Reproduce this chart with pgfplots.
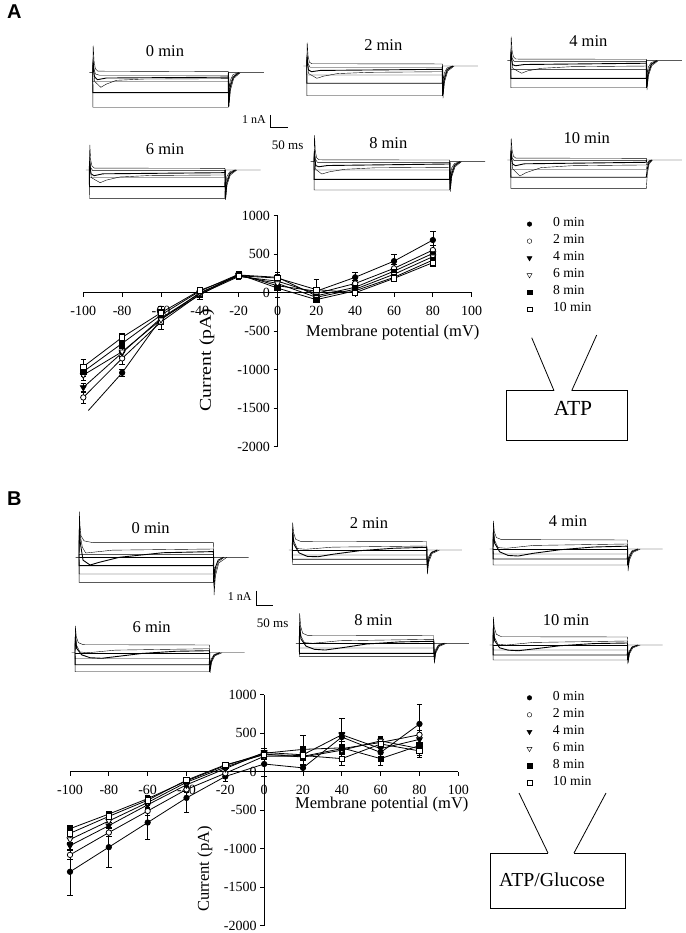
\documentclass[border=0pt]{standalone}
\usepackage{pgfplots}
\pgfplotsset{compat=1.18}
\usepackage{fontspec}
\setmainfont{Liberation Serif}
\setsansfont{Liberation Sans}
\tikzset{
 s0/.style={mark=*, mark options={solid, fill=black}},
 s2/.style={mark=*, mark options={solid, fill=white}},
 s4/.style={mark=triangle*, mark options={solid, rotate=180, fill=black, scale=1.25}},
 s6/.style={mark=triangle*, mark options={solid, rotate=180, fill=white, scale=1.25}},
 s8/.style={mark=square*, mark options={solid, fill=black}},
 s10/.style={mark=square*, mark options={solid, fill=white}},
}
\pgfplotsset{
 trbase/.style={hide axis, clip=false, enlargelimits=false, anchor=south west, xmin=-10, xmax=505,
   cycle list={{black,no markers,line width=0.9pt}}},
 trA/.style={trbase, x=0.339pt, y=12.7pt, ymin=-4, ymax=3},
 trB/.style={trbase, x=0.336pt, y=14.3pt, ymin=-3, ymax=4},
 iv/.style={scale only axis, anchor=south west, enlargelimits=false, clip=false,
   xmin=-100, xmax=100, ymin=-2000, ymax=1000,
   axis lines=middle, axis line style={-, line width=0.8pt},
   every inner x axis line/.append style={-}, every inner y axis line/.append style={-},
   xtick={-100,-80,-60,-40,-20,0,20,40,60,80,100},
   xticklabels={-100,-80,-60,-40,-20,0,20,40,60,80,100},
   ytick={-2000,-1500,-1000,-500,0,500,1000},
   yticklabels={-2000,-1500,-1000,-500,0,500,1000},
   hide obscured x ticks=false, hide obscured y ticks=false,
   tick align=outside, major tick length=4pt, tick style={line width=0.8pt, black},
   ticklabel style={font=\fontsize{14}{14}\selectfont},
   xticklabel style={yshift=-5.5pt},
   legend cell align=left,
   legend image code/.code={\draw[##1] plot coordinates {(0pt,0pt)};},
   legend style={anchor=north west, draw=none, fill=none, inner sep=0pt, row sep=0pt, column sep=21pt,
     nodes={inner sep=0pt, text height=11pt, text depth=6pt, font=\fontsize{13.7}{14}\selectfont}},
 },
 dat/.style={black, line width=0.8pt, mark size=2.7pt, forget plot,
   error bars/y dir=both, error bars/y explicit, error bars/error bar style={line width=0.7pt, black}},
}
\begin{document}
\begin{tikzpicture}
\useasboundingbox (0pt,0pt) rectangle (685pt,-933pt);
\fill[white] (0pt,0pt) rectangle (685pt,-933pt);

% ---------------- Panel A traces ----------------
\begin{axis}[trA, at={(89.31pt,-123.5pt)}]
\addplot coordinates {(-10,0) (0,0) (1.5,2.13) (4,0.9) (8,0.3) (15,0.12) (400,0.08) (400.5,0) (505,0)};
\addplot coordinates {(0,0) (1,1.2) (4,0.3) (8,-0.1) (20,-0.2) (400,-0.2) (400.5,0)};
\addplot coordinates {(0,0) (1,0.8) (5,-0.3) (14,-0.55) (40,-0.42) (400,-0.35) (400.5,0)};
\addplot coordinates {(0,0) (1,0.5) (6,-0.7) (24,-1.15) (40,-0.9) (70,-0.6) (150,-0.5) (400,-0.47) (400.5,0) (402,-1.3) (406,-0.6) (414,-0.15) (430,0)};
\addplot coordinates {(0,0) (0.5,-0.71) (400,-0.71) (400.5,0) (402,-1.9) (406,-0.9) (414,-0.3) (430,0)};
\addplot coordinates {(0,0) (0.5,-1.57) (400,-1.57) (400.5,0) (402,-2.3) (406,-1.1) (415,-0.35) (432,0)};
\addplot coordinates {(0,0) (0.5,-2.72) (400,-2.72) (400.5,0) (402,-2.68) (406,-1.4) (416,-0.45) (435,0)};
\end{axis}
\begin{axis}[trA, at={(303.31pt,-116.8pt)}]
\addplot coordinates {(-10,0) (0,0) (1.5,1.83) (4,0.8) (8,0.3) (15,0.18) (400,0.16) (400.5,0) (505,0)};
\addplot coordinates {(0,0) (1,1.0) (4,0.2) (10,-0.1) (400,-0.1) (400.5,0)};
\addplot coordinates {(0,0) (1,0.7) (5,-0.3) (14,-0.45) (40,-0.35) (400,-0.26) (400.5,0)};
\addplot coordinates {(0,0) (1,0.5) (6,-0.6) (30,-0.97) (50,-0.8) (90,-0.6) (180,-0.5) (400,-0.45) (400.5,0) (402,-1.2) (406,-0.55) (414,-0.15) (430,0)};
\addplot coordinates {(0,0) (0.5,-0.71) (400,-0.71) (400.5,0) (402,-1.8) (406,-0.85) (414,-0.25) (430,0)};
\addplot coordinates {(0,0) (0.5,-1.36) (400,-1.36) (400.5,0) (402,-2.2) (406,-1.05) (415,-0.3) (432,0)};
\addplot coordinates {(0,0) (0.5,-2.34) (400,-2.34) (400.5,0) (402,-2.54) (406,-1.3) (416,-0.4) (435,0)};
\end{axis}
\begin{axis}[trA, at={(507.31pt,-111.5pt)}]
\addplot coordinates {(-10,0) (0,0) (1.5,1.89) (4,0.8) (8,0.3) (15,0.13) (400,0.11) (400.5,0) (505,0)};
\addplot coordinates {(0,0) (1,1.0) (4,0.2) (10,-0.05) (400,-0.05) (400.5,0)};
\addplot coordinates {(0,0) (1,0.7) (5,-0.3) (14,-0.4) (40,-0.3) (400,-0.2) (400.5,0)};
\addplot coordinates {(0,0) (1,0.5) (6,-0.6) (32,-0.99) (50,-0.8) (90,-0.6) (180,-0.47) (400,-0.42) (400.5,0) (402,-1.1) (406,-0.5) (414,-0.15) (430,0)};
\addplot coordinates {(0,0) (0.5,-0.68) (400,-0.68) (400.5,0) (402,-1.6) (406,-0.8) (414,-0.25) (430,0)};
\addplot coordinates {(0,0) (0.5,-1.39) (400,-1.39) (400.5,0) (402,-2.0) (406,-1.0) (415,-0.3) (432,0)};
\addplot coordinates {(0,0) (0.5,-2.13) (400,-2.13) (400.5,0) (402,-2.31) (406,-1.2) (416,-0.4) (435,0)};
\end{axis}
\begin{axis}[trA, at={(85.91pt,-220.8pt)}]
\addplot coordinates {(-10,0) (0,0) (1.5,1.97) (4,0.8) (8,0.3) (15,0.15) (400,0.13) (400.5,0) (505,0)};
\addplot coordinates {(0,0) (1,1.0) (4,0.2) (10,-0.05) (400,-0.05) (400.5,0)};
\addplot coordinates {(0,0) (1,0.7) (5,-0.3) (14,-0.45) (40,-0.3) (400,-0.21) (400.5,0)};
\addplot coordinates {(0,0) (1,0.5) (6,-0.6) (32,-1.0) (50,-0.8) (90,-0.55) (180,-0.43) (400,-0.39) (400.5,0) (402,-1.1) (406,-0.5) (414,-0.15) (430,0)};
\addplot coordinates {(0,0) (0.5,-0.57) (400,-0.57) (400.5,0) (402,-1.7) (406,-0.8) (414,-0.25) (430,0)};
\addplot coordinates {(0,0) (0.5,-1.31) (400,-1.31) (400.5,0) (402,-2.1) (406,-1.0) (415,-0.3) (432,0)};
\addplot coordinates {(0,0) (0.5,-2.23) (400,-2.23) (400.5,0) (402,-2.36) (406,-1.2) (416,-0.4) (435,0)};
\end{axis}
\begin{axis}[trA, at={(310.61pt,-212.5pt)}]
\addplot coordinates {(-10,0) (0,0) (1.5,2.1) (4,0.8) (8,0.3) (15,0.15) (400,0.13) (400.5,0) (505,0)};
\addplot coordinates {(0,0) (1,1.0) (4,0.2) (10,-0.05) (400,-0.05) (400.5,0)};
\addplot coordinates {(0,0) (1,0.7) (5,-0.3) (14,-0.4) (40,-0.3) (400,-0.18) (400.5,0)};
\addplot coordinates {(0,0) (1,0.5) (5,-0.6) (23,-0.97) (45,-0.8) (90,-0.6) (180,-0.48) (400,-0.44) (400.5,0) (402,-1.1) (406,-0.5) (414,-0.15) (430,0)};
\addplot coordinates {(0,0) (0.5,-0.65) (400,-0.65) (400.5,0) (402,-1.7) (406,-0.8) (414,-0.25) (430,0)};
\addplot coordinates {(0,0) (0.5,-1.39) (400,-1.39) (400.5,0) (402,-2.1) (406,-1.0) (415,-0.3) (432,0)};
\addplot coordinates {(0,0) (0.5,-2.23) (400,-2.23) (400.5,0) (402,-2.36) (406,-1.2) (416,-0.4) (435,0)};
\end{axis}
\begin{axis}[trA, at={(507.31pt,-210.8pt)}]
\addplot coordinates {(-10,0) (0,0) (1.5,1.71) (4,0.8) (8,0.3) (15,0.15) (400,0.13) (400.5,0) (505,0)};
\addplot coordinates {(0,0) (1,1.0) (4,0.2) (10,-0.05) (400,-0.05) (400.5,0)};
\addplot coordinates {(0,0) (1,0.7) (5,-0.3) (14,-0.45) (40,-0.3) (400,-0.18) (400.5,0)};
\addplot coordinates {(0,0) (1,0.5) (6,-0.7) (27,-1.26) (45,-1.0) (90,-0.6) (180,-0.45) (400,-0.39) (403,-0.2) (408,-0.06) (415,0)};
\addplot coordinates {(0,0) (0.5,-0.73) (400,-0.73) (403,-0.37) (408,-0.11) (415,0)};
\addplot coordinates {(0,0) (0.5,-1.36) (400,-1.36) (403,-0.68) (408,-0.2) (416,0)};
\addplot coordinates {(0,0) (0.5,-2.23) (400,-2.23) (403,-1.1) (408,-0.33) (418,0)};
\end{axis}

% ---------------- Panel B traces ----------------
\begin{axis}[trB, at={(75.64pt,-600.2pt)}]
\addplot coordinates {(-10,0) (0,0) (1,3.2) (3,2.2) (6,1.5) (15,1.15) (40,1.03) (400,1.03) (400.5,0) (505,0)};
\addplot coordinates {(0,0) (1,2.6) (4,1.5) (10,0.7) (20,0.3) (40,0.35) (100,0.5) (400,0.58) (400.5,0)};
\addplot coordinates {(0,0) (1,2.0) (4,1.0) (12,-0.2) (33,-0.54) (60,-0.35) (120,0.0) (250,0.32) (400,0.4) (400.5,0)};
\addplot coordinates {(0,0) (0.5,0.2) (400,0.2) (400.5,0)};
\addplot coordinates {(0,0) (400,0)};
\addplot coordinates {(0,0) (0.5,-0.58) (400,-0.58) (400.5,0) (402,-1.5) (406,-0.7) (414,-0.2) (430,0)};
\addplot coordinates {(0,0) (0.5,-1.17) (400,-1.17) (400.5,0) (402,-2.1) (406,-1.0) (415,-0.3) (432,0)};
\addplot coordinates {(0,0) (0.5,-1.75) (400,-1.75) (400.5,0) (402,-2.64) (406,-1.3) (416,-0.4) (440,0)};
\end{axis}
\begin{axis}[trB, at={(288.94pt,-592.9pt)}]
\addplot coordinates {(-10,0) (0,0) (1,1.91) (4,1.2) (10,0.75) (25,0.6) (400,0.58) (400.5,0) (505,0)};
\addplot coordinates {(0,0) (1,1.5) (5,0.6) (15,0.1) (40,0.05) (120,0.2) (400,0.28) (400.5,0)};
\addplot coordinates {(0,0) (1,1.2) (5,0.4) (20,-0.2) (45,-0.45) (77,-0.47) (120,-0.3) (200,-0.05) (300,0.12) (400,0.19) (400.5,0)};
\addplot coordinates {(0,0) (400,0)};
\addplot coordinates {(0,0) (0.5,-0.35) (400,-0.35) (400.5,0) (402,-0.9) (406,-0.45) (414,-0.15) (430,0)};
\addplot coordinates {(0,0) (0.5,-0.65) (400,-0.65) (400.5,0) (402,-1.3) (406,-0.65) (414,-0.2) (432,0)};
\addplot coordinates {(0,0) (0.5,-1.0) (400,-1.0) (400.5,0) (402,-1.68) (406,-0.85) (416,-0.25) (438,0)};
\end{axis}
\begin{axis}[trB, at={(489.64pt,-591.9pt)}]
\addplot coordinates {(-10,0) (0,0) (1,1.96) (4,1.2) (10,0.8) (25,0.66) (400,0.63) (400.5,0) (505,0)};
\addplot coordinates {(0,0) (1,1.5) (5,0.6) (15,0.1) (40,0.05) (120,0.25) (400,0.35) (400.5,0)};
\addplot coordinates {(0,0) (1,1.2) (5,0.4) (20,-0.2) (45,-0.45) (75,-0.49) (120,-0.3) (200,-0.05) (300,0.14) (400,0.2) (400.5,0)};
\addplot coordinates {(0,0) (400,0)};
\addplot coordinates {(0,0) (0.5,-0.35) (400,-0.35) (400.5,0) (402,-0.85) (406,-0.42) (414,-0.12) (430,0)};
\addplot coordinates {(0,0) (0.5,-0.7) (400,-0.7) (400.5,0) (402,-1.2) (406,-0.6) (414,-0.2) (432,0)};
\addplot coordinates {(0,0) (0.5,-1.12) (400,-1.12) (400.5,0) (402,-1.54) (406,-0.78) (416,-0.25) (438,0)};
\end{axis}
\begin{axis}[trB, at={(71.64pt,-695.6pt)}]
\addplot coordinates {(-10,0) (0,0) (1,1.87) (4,1.1) (10,0.7) (25,0.56) (400,0.54) (400.5,0) (505,0)};
\addplot coordinates {(0,0) (1,1.4) (5,0.5) (15,0.05) (40,0.0) (120,0.18) (400,0.28) (400.5,0)};
\addplot coordinates {(0,0) (1,1.1) (5,0.3) (20,-0.15) (45,-0.35) (80,-0.39) (130,-0.25) (200,-0.05) (300,0.1) (400,0.14) (400.5,0)};
\addplot coordinates {(0,0) (400,0)};
\addplot coordinates {(0,0) (0.5,-0.42) (400,-0.42) (400.5,0) (402,-0.85) (406,-0.42) (414,-0.12) (430,0)};
\addplot coordinates {(0,0) (0.5,-0.84) (400,-0.84) (400.5,0) (402,-1.15) (406,-0.58) (414,-0.18) (432,0)};
\addplot coordinates {(0,0) (0.5,-1.33) (400,-1.33) (400.5,0) (402,-1.4) (406,-0.7) (416,-0.22) (438,0)};
\end{axis}
\begin{axis}[trB, at={(295.94pt,-686.2pt)}]
\addplot coordinates {(-10,0) (0,0) (1,2.1) (4,1.2) (10,0.7) (25,0.55) (400,0.53) (400.5,0) (505,0)};
\addplot coordinates {(0,0) (1,1.5) (5,0.5) (15,0.05) (40,0.0) (120,0.18) (400,0.28) (400.5,0)};
\addplot coordinates {(0,0) (1,1.2) (5,0.3) (20,-0.2) (45,-0.42) (77,-0.47) (130,-0.3) (200,-0.05) (300,0.1) (400,0.14) (400.5,0)};
\addplot coordinates {(0,0) (400,0)};
\addplot coordinates {(0,0) (0.5,-0.33) (400,-0.33) (400.5,0) (402,-0.85) (406,-0.42) (414,-0.12) (430,0)};
\addplot coordinates {(0,0) (0.5,-0.7) (400,-0.7) (400.5,0) (402,-1.15) (406,-0.58) (414,-0.18) (432,0)};
\addplot coordinates {(0,0) (0.5,-0.93) (400,-0.93) (400.5,0) (402,-1.4) (406,-0.7) (416,-0.22) (438,0)};
\end{axis}
\begin{axis}[trB, at={(489.64pt,-687.9pt)}]
\addplot coordinates {(-10,0) (0,0) (1,1.96) (4,1.2) (10,0.75) (25,0.58) (400,0.56) (400.5,0) (505,0)};
\addplot coordinates {(0,0) (1,1.5) (5,0.5) (15,0.05) (40,0.0) (120,0.18) (400,0.28) (400.5,0)};
\addplot coordinates {(0,0) (1,1.2) (5,0.3) (20,-0.2) (45,-0.36) (75,-0.4) (130,-0.25) (200,-0.05) (300,0.1) (400,0.14) (400.5,0)};
\addplot coordinates {(0,0) (400,0)};
\addplot coordinates {(0,0) (0.5,-0.35) (400,-0.35) (400.5,0) (402,-0.8) (406,-0.4) (414,-0.12) (430,0)};
\addplot coordinates {(0,0) (0.5,-0.7) (400,-0.7) (400.5,0) (402,-1.05) (406,-0.52) (414,-0.16) (432,0)};
\addplot coordinates {(0,0) (0.5,-1.05) (400,-1.05) (400.5,0) (402,-1.26) (406,-0.63) (416,-0.2) (438,0)};
\end{axis}

% ---------------- Panel A I-V ----------------
\begin{axis}[iv, at={(83.3pt,-446.7pt)}, width=388.4pt, height=231pt,
  legend style={at={(axis description cs:1.1419,1.0013)}}]
\addplot[s0, dat] coordinates {(-80,-1040) +- (0,50) (-60,-340) +- (0,130) (-40,-30) +- (0,50) (-20,240) +- (0,40) (0,90) +- (0,150) (20,20) +- (0,30) (40,200) +- (0,60) (60,410) +- (0,90) (80,684) +- (0,120)};
\addplot[black, line width=0.8pt, forget plot] coordinates {(-80,-1040) (-97.4,-1530)};
\addplot[s2, dat] coordinates {(-100,-1360) +- (0,80) (-80,-853) +- (0,80) (-60,-380) +- (0,100) (-40,-20) +- (0,40) (-20,210) +- (0,40) (0,150) +- (0,60) (20,-10) +- (0,30) (40,120) +- (0,40) (60,316) +- (0,50) (80,554) +- (0,60)};
\addplot[s4, dat] coordinates {(-100,-1230) +- (0,60) (-80,-780) +- (0,60) (-60,-330) +- (0,60) (-40,-10) +- (0,30) (-20,230) +- (0,30) (0,200) +- (0,60) (20,-40) +- (0,30) (40,70) +- (0,30) (60,280) +- (0,40) (80,510) +- (0,50)};
\addplot[s6, dat] coordinates {(-100,-1070) +- (0,60) (-80,-766) +- (0,60) (-60,-350) +- (0,60) (-40,0) +- (0,30) (-20,220) +- (0,30) (0,120) +- (0,50) (20,-60) +- (0,30) (40,45) +- (0,30) (60,240) +- (0,40) (80,468) +- (0,50)};
\addplot[s8, dat] coordinates {(-100,-1026) +- (0,60) (-80,-658) +- (0,50) (-60,-290) +- (0,60) (-40,20) +- (0,30) (-20,240) +- (0,30) (0,60) +- (0,50) (20,-90) +- (0,30) (40,25) +- (0,30) (60,200) +- (0,40) (80,424) +- (0,50)};
\addplot[s10, dat] coordinates {(-100,-961) +- (0,100) (-80,-580) +- (0,60) (-60,-260) +- (0,90) (-40,30) +- (0,30) (-20,220) +- (0,30) (0,190) +- (0,50) (20,40) +- (0,130) (40,0) +- (0,30) (60,186) +- (0,40) (80,390) +- (0,50)};
\addlegendimage{only marks, mark size=2.3pt, s0}\addlegendentry{0 min}
\addlegendimage{only marks, mark size=2.3pt, s2}\addlegendentry{2 min}
\addlegendimage{only marks, mark size=2.3pt, s4}\addlegendentry{4 min}
\addlegendimage{only marks, mark size=2.3pt, s6}\addlegendentry{6 min}
\addlegendimage{only marks, mark size=2.3pt, s8}\addlegendentry{8 min}
\addlegendimage{only marks, mark size=2.3pt, s10}\addlegendentry{10 min}
\end{axis}

% ---------------- Panel B I-V ----------------
\begin{axis}[iv, at={(70pt,-925.7pt)}, width=388.3pt, height=231pt,
  legend style={at={(axis description cs:1.1764,1.0242)}}]
\addplot[s0, dat] coordinates {(-100,-1300) +- (0,300) (-80,-980) +- (0,260) (-60,-660) +- (0,220) (-40,-340) +- (0,190) (-20,-62) +- (0,60) (0,100) +- (0,160) (20,50) +- (0,40) (40,450) +- (0,60) (60,250) +- (0,80) (80,620) +- (0,260)};
\addplot[s2, dat] coordinates {(-100,-1080) +- (0,60) (-80,-790) +- (0,50) (-60,-510) +- (0,50) (-40,-230) +- (0,40) (-20,-20) +- (0,30) (0,200) +- (0,40) (20,200) +- (0,40) (40,300) +- (0,60) (60,380) +- (0,60) (80,480) +- (0,60)};
\addplot[s4, dat] coordinates {(-100,-960) +- (0,50) (-80,-700) +- (0,40) (-60,-430) +- (0,40) (-40,-170) +- (0,30) (-20,40) +- (0,30) (0,250) +- (0,50) (20,220) +- (0,40) (40,480) +- (0,220) (60,300) +- (0,150) (80,420) +- (0,80)};
\addplot[s6, dat] coordinates {(-100,-880) +- (0,50) (-80,-640) +- (0,40) (-60,-400) +- (0,40) (-40,-137) +- (0,30) (-20,60) +- (0,30) (0,230) +- (0,40) (20,190) +- (0,40) (40,280) +- (0,80) (60,400) +- (0,60) (80,300) +- (0,80)};
\addplot[s8, dat] coordinates {(-100,-740) +- (0,40) (-80,-550) +- (0,40) (-60,-350) +- (0,40) (-40,-120) +- (0,30) (-20,80) +- (0,30) (0,240) +- (0,40) (20,290) +- (0,190) (40,310) +- (0,80) (60,170) +- (0,80) (80,340) +- (0,80)};
\addplot[s10, dat] coordinates {(-100,-800) +- (0,40) (-80,-580) +- (0,40) (-60,-370) +- (0,40) (-40,-110) +- (0,30) (-20,90) +- (0,30) (0,220) +- (0,40) (20,210) +- (0,40) (40,170) +- (0,80) (60,360) +- (0,80) (80,270) +- (0,80)};
\addlegendimage{only marks, mark size=2.3pt, s0}\addlegendentry{0 min}
\addlegendimage{only marks, mark size=2.3pt, s2}\addlegendentry{2 min}
\addlegendimage{only marks, mark size=2.3pt, s4}\addlegendentry{4 min}
\addlegendimage{only marks, mark size=2.3pt, s6}\addlegendentry{6 min}
\addlegendimage{only marks, mark size=2.3pt, s8}\addlegendentry{8 min}
\addlegendimage{only marks, mark size=2.3pt, s10}\addlegendentry{10 min}
\end{axis}

% ---------------- text and drawings ----------------
\tikzset{tt/.style={font=\fontsize{16.5}{18}\selectfont, inner sep=0pt}}
\node[anchor=base west, inner sep=0pt, font=\sffamily\bfseries\fontsize{20}{20}\selectfont] at (7pt,-19pt) {A};
\node[anchor=base west, inner sep=0pt, font=\sffamily\bfseries\fontsize{20}{20}\selectfont] at (7pt,-505pt) {B};
% trace titles A
\node[tt] at (165pt,-50.7pt) {0 min};
\node[tt] at (383.3pt,-45pt) {2 min};
\node[tt] at (588.3pt,-41pt) {4 min};
\node[tt] at (165pt,-149.3pt) {6 min};
\node[tt] at (388.3pt,-143.3pt) {8 min};
\node[tt] at (586.7pt,-138.3pt) {10 min};
% trace titles B
\node[tt] at (150.7pt,-528.3pt) {0 min};
\node[tt] at (369pt,-523.3pt) {2 min};
\node[tt] at (568pt,-521pt) {4 min};
\node[tt] at (151.7pt,-626.7pt) {6 min};
\node[tt] at (373.3pt,-620pt) {8 min};
\node[tt] at (566pt,-620pt) {10 min};
% scale bars
\draw[line width=0.8pt] (270pt,-115pt) -- (270pt,-127.7pt) -- (287.7pt,-127.7pt);
\node[anchor=east, inner sep=0pt, font=\fontsize{12}{12}\selectfont] at (266pt,-120pt) {1 nA};
\node[anchor=west, inner sep=0pt, font=\fontsize{13}{13}\selectfont] at (271.7pt,-145pt) {50 ms};
\draw[line width=0.8pt] (256.7pt,-590.7pt) -- (256.7pt,-605pt) -- (273.3pt,-605pt);
\node[anchor=east, inner sep=0pt, font=\fontsize{12}{12}\selectfont] at (251.7pt,-597pt) {1 nA};
\node[anchor=west, inner sep=0pt, font=\fontsize{13}{13}\selectfont] at (256.7pt,-623.3pt) {50 ms};
% axis labels
\node[anchor=west, tt] at (306pt,-333pt) {Membrane potential (mV)};
\node[tt, rotate=90] at (207pt,-360pt) {\scalebox{1.2}[1]{Current (pA)}};
\node[anchor=west, tt] at (295pt,-805pt) {Membrane potential (mV)};
\node[tt, rotate=90] at (205pt,-869pt) {Current (pA)};
% schematic A
\draw[line width=0.8pt] (531.7pt,-337.7pt) -- (554pt,-390.7pt);
\draw[line width=0.8pt] (596.7pt,-335pt) -- (571.7pt,-390.7pt);
\draw[line width=0.8pt] (554pt,-390.7pt) -- (506.7pt,-390.7pt) -- (506.7pt,-440.7pt) -- (627.7pt,-440.7pt) -- (627.7pt,-390.7pt) -- (571.7pt,-390.7pt);
\node[inner sep=0pt, font=\fontsize{21.5}{22}\selectfont] at (573pt,-408.5pt) {ATP};
% schematic B
\draw[line width=0.8pt] (519pt,-793pt) -- (548pt,-853pt);
\draw[line width=0.8pt] (606pt,-793pt) -- (574pt,-853pt);
\draw[line width=0.8pt] (548pt,-853pt) -- (490pt,-853pt) -- (490pt,-908pt) -- (625pt,-908pt) -- (625pt,-853pt) -- (574pt,-853pt);
\node[inner sep=0pt, font=\fontsize{19.8}{20}\selectfont] at (552pt,-880pt) {ATP/Glucose};
\end{tikzpicture}
\end{document}
